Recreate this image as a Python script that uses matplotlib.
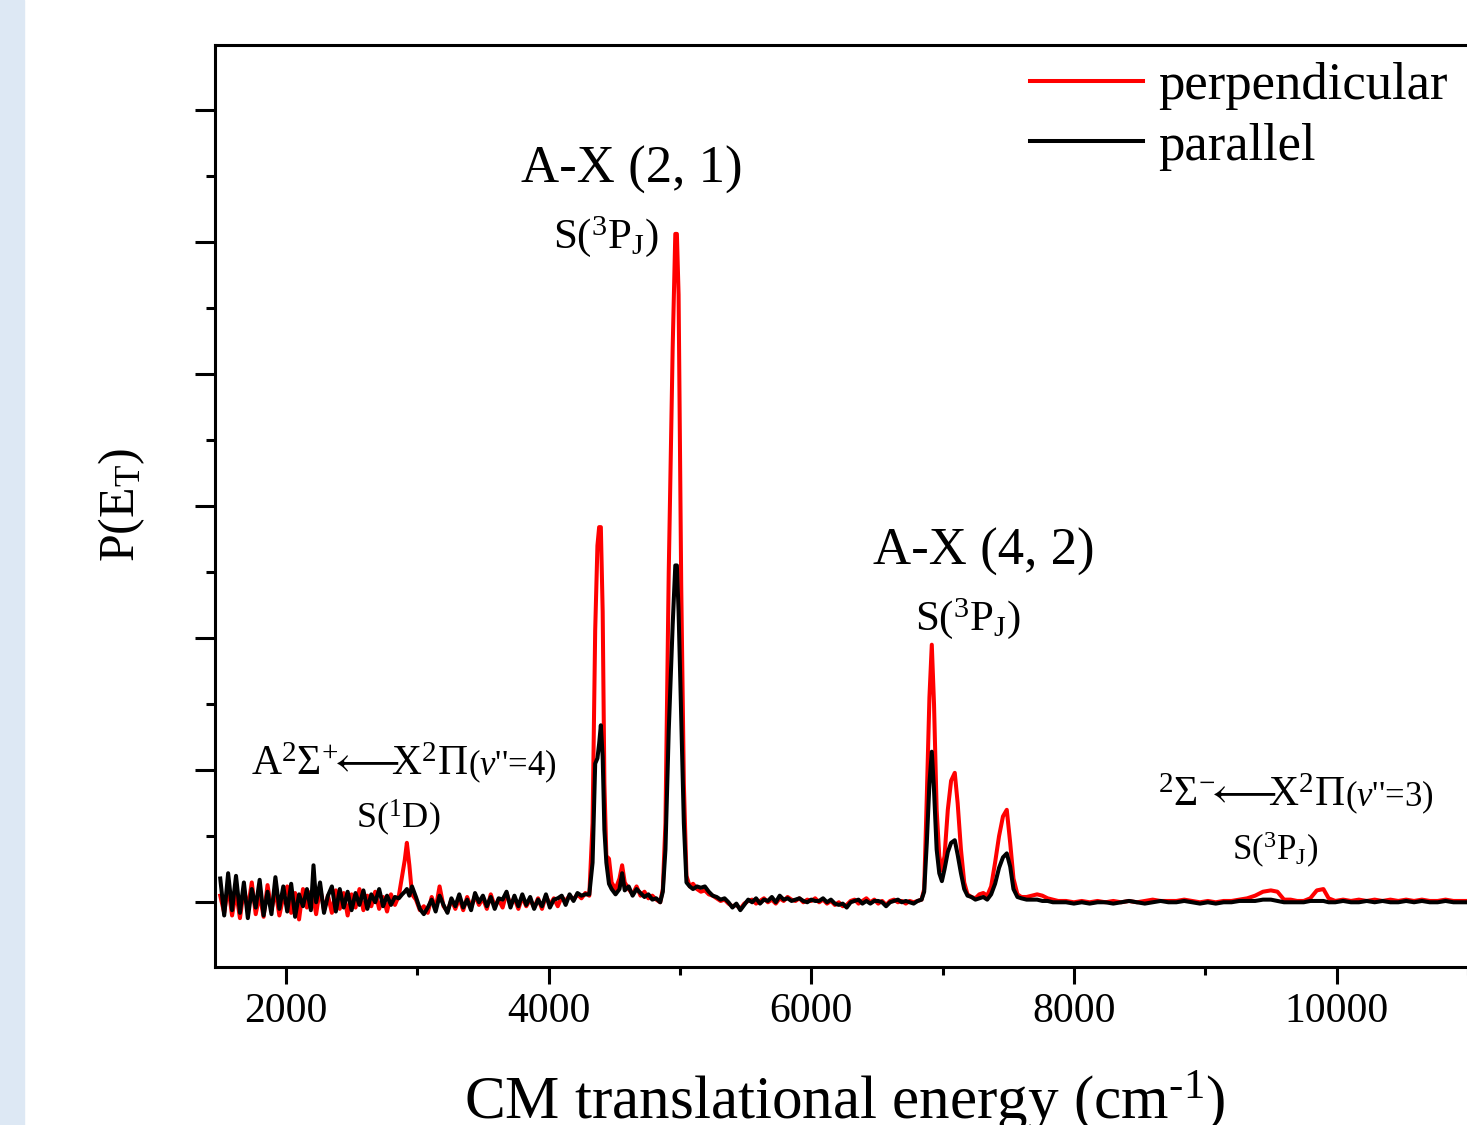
import matplotlib
matplotlib.use('Agg')
import matplotlib.pyplot as plt
from matplotlib.patches import Rectangle
from matplotlib.ticker import MultipleLocator

# CM translational energy (cm-1)
energy = [1500, 1530, 1560, 1590, 1620, 1650, 1680, 1710, 1740, 1770,
          1800, 1830, 1860, 1890, 1920, 1950, 1980, 2010, 2040, 2070,
          2100, 2130, 2160, 2190, 2210, 2230, 2260, 2290, 2320, 2350,
          2380, 2410, 2440, 2470, 2500, 2530, 2560, 2590, 2620, 2650,
          2680, 2710, 2740, 2770, 2800, 2830, 2860, 2885, 2905, 2921,
          2940, 2960, 2990, 3020, 3050, 3080, 3110, 3140, 3170, 3200,
          3230, 3260, 3290, 3320, 3350, 3380, 3410, 3440, 3470, 3500,
          3530, 3560, 3590, 3620, 3650, 3680, 3710, 3740, 3770, 3800,
          3830, 3860, 3890, 3920, 3950, 3980, 4010, 4040, 4070, 4100,
          4130, 4160, 4190, 4220, 4250, 4280, 4310, 4335, 4355, 4372,
          4385, 4398, 4412, 4425, 4440, 4460, 4480, 4510, 4540, 4560,
          4580, 4610, 4640, 4670, 4700, 4730, 4760, 4790, 4820, 4850,
          4870, 4890, 4915, 4945, 4965, 4977, 4990, 5010, 5030, 5050,
          5075, 5100, 5130, 5160, 5190, 5220, 5250, 5280, 5310, 5340,
          5370, 5400, 5430, 5460, 5490, 5520, 5550, 5580, 5610, 5640,
          5670, 5700, 5730, 5760, 5790, 5820, 5850, 5880, 5910, 5940,
          5970, 6000, 6030, 6060, 6090, 6120, 6150, 6180, 6210, 6240,
          6270, 6300, 6330, 6360, 6390, 6420, 6450, 6480, 6510, 6540,
          6570, 6600, 6630, 6660, 6690, 6720, 6750, 6780, 6810, 6840,
          6860, 6880, 6900, 6918, 6935, 6955, 6975, 6995, 7015, 7040,
          7065, 7093, 7115, 7140, 7165, 7190, 7220, 7250, 7280, 7310,
          7340, 7370, 7400, 7430, 7460, 7489, 7515, 7540, 7570, 7600,
          7640, 7680, 7720, 7760, 7800, 7840, 7880, 7940, 8000, 8060,
          8120, 8180, 8240, 8300, 8360, 8420, 8480, 8540, 8600, 8660,
          8720, 8780, 8840, 8900, 8960, 9020, 9080, 9140, 9200, 9260,
          9320, 9380, 9440, 9500, 9550, 9600, 9650, 9700, 9750, 9800,
          9850, 9900, 9940, 9990, 10050, 10110, 10170, 10230, 10290, 10350,
          10410, 10470, 10530, 10590, 10650, 10710, 10770, 10830, 10890, 10950,
          11000, 11100]

perp = [0.05, -0.08, 0.12, -0.10, 0.08, -0.12, 0.10, -0.05, 0.15, -0.09,
        0.06, -0.11, 0.13, -0.06, 0.09, -0.10, 0.04, 0.12, -0.08, 0.07,
        -0.13, 0.10, -0.04, 0.08, 0.03, -0.09, 0.11, -0.06, 0.05, -0.08,
        0.09, -0.05, 0.07, -0.10, 0.06, -0.04, 0.10, -0.06, 0.05, -0.03,
        0.08, -0.05, 0.04, -0.07, 0.06, -0.02, 0.05, 0.20, 0.32, 0.45,
        0.28, 0.06, 0.02, -0.06, -0.03, -0.08, 0.04, -0.05, 0.12, -0.03,
        -0.07, 0.02, -0.05, 0.03, -0.06, 0.04, -0.04, 0.05, -0.02, 0.03,
        -0.05, 0.06, -0.03, 0.02, -0.04, 0.07, -0.02, 0.03, -0.05, 0.04,
        -0.03, 0.02, -0.04, 0.03, -0.05, 0.05, -0.02, 0.03, -0.03, 0.04,
        0.01, 0.05, 0.02, 0.06, 0.03, 0.07, 0.05, 0.60, 2.06, 2.70,
        2.84, 2.84, 2.20, 0.90, 0.35, 0.33, 0.15, 0.10, 0.18, 0.28,
        0.15, 0.10, 0.06, 0.12, 0.05, 0.08, 0.03, 0.05, 0.02, 0.00,
        0.10, 0.60, 2.50, 4.20, 5.06, 5.06, 4.60, 2.40, 0.90, 0.20,
        0.12, 0.14, 0.10, 0.08, 0.09, 0.06, 0.05, 0.03, 0.01, 0.02,
        -0.01, -0.03, -0.02, -0.05, -0.01, 0.01, 0.02, -0.01, 0.01, 0.03,
        0.00, 0.02, -0.01, 0.03, 0.01, 0.04, 0.02, 0.01, 0.03, 0.00,
        0.02, 0.01, 0.03, 0.00, 0.02, -0.01, 0.01, -0.02, 0.00, -0.03,
        -0.02, 0.01, 0.02, -0.01, 0.01, 0.03, 0.00, 0.02, -0.01, 0.01,
        -0.02, 0.01, 0.02, 0.00, 0.01, -0.01, 0.01, 0.00, 0.01, 0.02,
        0.10, 0.80, 1.55, 1.95, 1.50, 0.70, 0.35, 0.24, 0.35, 0.70,
        0.92, 0.98, 0.75, 0.40, 0.15, 0.06, 0.04, 0.03, 0.06, 0.07,
        0.05, 0.12, 0.30, 0.50, 0.65, 0.70, 0.45, 0.18, 0.06, 0.04,
        0.04, 0.05, 0.06, 0.05, 0.03, 0.02, 0.01, 0.01, 0.00, 0.01,
        0.00, 0.01, 0.00, 0.01, 0.00, 0.01, 0.00, 0.01, 0.02, 0.01,
        0.01, 0.01, 0.02, 0.01, 0.00, 0.01, 0.00, 0.01, 0.01, 0.02,
        0.03, 0.05, 0.08, 0.09, 0.08, 0.02, 0.02, 0.01, 0.01, 0.03,
        0.09, 0.10, 0.03, 0.01, 0.02, 0.01, 0.02, 0.01, 0.02, 0.01,
        0.02, 0.01, 0.02, 0.01, 0.02, 0.01, 0.01, 0.02, 0.01, 0.01,
        0.01, 0.01]

par = [0.18, -0.10, 0.22, -0.06, 0.20, -0.08, 0.15, -0.12, 0.10, -0.04,
       0.17, -0.10, 0.08, -0.09, 0.19, -0.05, 0.12, -0.07, 0.14, -0.11,
       0.06, -0.03, 0.10, -0.06, 0.28, 0.00, 0.15, -0.08, 0.05, 0.12,
       -0.07, 0.10, -0.04, 0.08, -0.06, 0.07, -0.02, 0.09, -0.05, 0.06,
       0.00, 0.10, -0.03, 0.05, -0.02, 0.04, 0.03, 0.06, 0.08, 0.10,
       0.05, 0.12, 0.04, -0.05, -0.09, -0.04, 0.02, -0.07, 0.05, -0.02,
       -0.08, 0.03, -0.03, 0.06, -0.04, 0.02, -0.06, 0.07, 0.00, 0.05,
       -0.03, 0.04, -0.05, 0.03, 0.02, 0.08, -0.04, 0.05, -0.03, 0.06,
       -0.02, 0.04, -0.05, 0.02, -0.03, 0.06, -0.04, 0.02, 0.03, 0.05,
       -0.02, 0.06, 0.01, 0.07, 0.05, 0.06, 0.06, 0.30, 1.05, 1.09,
       1.20, 1.34, 1.10, 0.55, 0.30, 0.14, 0.10, 0.06, 0.10, 0.22,
       0.09, 0.12, 0.05, 0.10, 0.07, 0.04, 0.06, 0.02, 0.03, 0.00,
       0.08, 0.40, 1.30, 2.10, 2.55, 2.55, 2.20, 1.40, 0.60, 0.15,
       0.12, 0.10, 0.12, 0.11, 0.12, 0.08, 0.05, 0.04, 0.02, 0.03,
       0.00, -0.04, -0.01, -0.06, -0.02, 0.02, 0.00, 0.03, -0.01, 0.02,
       0.01, 0.04, 0.00, 0.05, 0.02, 0.03, 0.01, 0.02, 0.03, 0.01,
       0.00, 0.02, 0.01, 0.01, 0.03, 0.00, 0.02, -0.01, -0.02, -0.01,
       -0.04, 0.00, 0.01, 0.02, -0.01, 0.01, -0.01, 0.01, 0.01, 0.00,
       -0.03, 0.00, 0.01, 0.02, 0.00, 0.01, 0.00, -0.01, 0.01, 0.02,
       0.08, 0.45, 0.90, 1.14, 0.85, 0.40, 0.22, 0.16, 0.25, 0.38,
       0.45, 0.47, 0.36, 0.22, 0.10, 0.05, 0.04, 0.02, 0.03, 0.04,
       0.02, 0.06, 0.14, 0.26, 0.34, 0.37, 0.27, 0.10, 0.04, 0.03,
       0.02, 0.02, 0.02, 0.01, 0.01, 0.00, 0.00, 0.00, -0.01, 0.00,
       -0.01, 0.00, 0.00, -0.01, 0.00, 0.01, 0.00, -0.01, 0.00, 0.01,
       0.00, 0.00, 0.01, 0.00, -0.01, 0.00, -0.01, 0.00, 0.00, 0.01,
       0.01, 0.01, 0.02, 0.02, 0.01, 0.00, 0.00, 0.00, 0.00, 0.01,
       0.01, 0.01, 0.00, 0.00, 0.01, 0.00, 0.00, 0.01, 0.00, 0.01,
       0.00, 0.00, 0.01, 0.00, 0.01, 0.00, 0.00, 0.01, 0.00, 0.00,
       0.00, 0.00]

assert len(energy) == len(perp) == len(par)

plt.rcParams['font.family'] = ['Liberation Serif', 'DejaVu Serif']
plt.rcParams['mathtext.fontset'] = 'custom'
plt.rcParams['mathtext.rm'] = 'Liberation Serif'
plt.rcParams['mathtext.it'] = 'Liberation Serif:italic'
plt.rcParams['mathtext.bf'] = 'Liberation Serif:bold'
plt.rcParams['mathtext.fallback'] = 'stix'

W, H = 1467, 1125
fig = plt.figure(figsize=(W / 100, H / 100), dpi=100)
fig.patches.append(Rectangle((0, 0), 24 / W, 1, transform=fig.transFigure,
                             color='#dde8f4', zorder=0))

ax = fig.add_axes([215 / W, 1 - 967 / H, 1266 / W, 922 / H])
ax.plot(energy, perp, color='red', lw=2.9, label='perpendicular')
ax.plot(energy, par, color='black', lw=2.9, label='parallel')
ax.set_xlim(1460, 11100)
ax.set_ylim(-0.49, 6.49)

ax.spines['right'].set_visible(False)
for s in ['left', 'bottom', 'top']:
    ax.spines[s].set_linewidth(2.2)
ax.xaxis.set_major_locator(MultipleLocator(2000))
ax.xaxis.set_minor_locator(MultipleLocator(1000))
ax.yaxis.set_major_locator(MultipleLocator(1))
ax.yaxis.set_minor_locator(MultipleLocator(0.5))
ax.tick_params(axis='both', which='both', direction='out', width=2.2)
ax.tick_params(axis='x', which='major', length=12, labelsize=30, pad=6)
ax.tick_params(axis='x', which='minor', length=6)
ax.tick_params(axis='y', which='major', length=14.5, labelleft=False)
ax.tick_params(axis='y', which='minor', length=6.5)

fig.text(845 / W, 1 - 1118 / H, 'CM translational energy (cm$^{\\text{-1}}$)',
         ha='center', va='baseline', fontsize=44)
fig.text(122 / W, 1 - 505 / H, 'P(E$_{\\rm T}$)', rotation=90,
         ha='center', va='center', fontsize=36)

# peak labels
arrow = '$\\!\\!\\longleftarrow\\!\\!\\!$'
ax.text(4634, 5.447, 'A-X (2, 1)', ha='center', va='baseline', fontsize=38)
ax.text(4436, 4.955, 'S($^{\\rm 3}$P$_{\\rm J}$)', ha='center', va='baseline', fontsize=31)
ax.text(7314, 2.553, 'A-X (4, 2)', ha='center', va='baseline', fontsize=38)
ax.text(7192, 2.061, 'S($^{\\rm 3}$P$_{\\rm J}$)', ha='center', va='baseline', fontsize=31)
ax.text(3386, 0.962, 'A$^{\\rm 2}$Σ$^{\\text{+}}$' + arrow + 'X$^{\\rm 2}$Π',
        ha='right', va='baseline', fontsize=30)
ax.text(3390, 0.962, "($v$''=4)", ha='left', va='baseline', fontsize=25)
ax.text(2853, 0.561, 'S($^{\\rm 1}$D)', ha='center', va='baseline', fontsize=26)
ax.text(10062, 0.727, '$^{\\rm 2}$Σ$^{\\text{−}}$' + arrow + 'X$^{\\rm 2}$Π',
        ha='right', va='baseline', fontsize=30)
ax.text(10066, 0.727, "($v$''=3)", ha='left', va='baseline', fontsize=25)
ax.text(9529, 0.318, 'S($^{\\rm 3}$P$_{\\rm J}$)', ha='center', va='baseline', fontsize=25)

ax.legend(loc='upper left', bbox_to_anchor=(1030 / W, 1 - 62 / H),
          bbox_transform=fig.transFigure, frameon=False, fontsize=38,
          handlelength=2.15, handletextpad=0.28, borderpad=0,
          borderaxespad=0, labelspacing=0.24)

fig.savefig('out.png', dpi=100)
